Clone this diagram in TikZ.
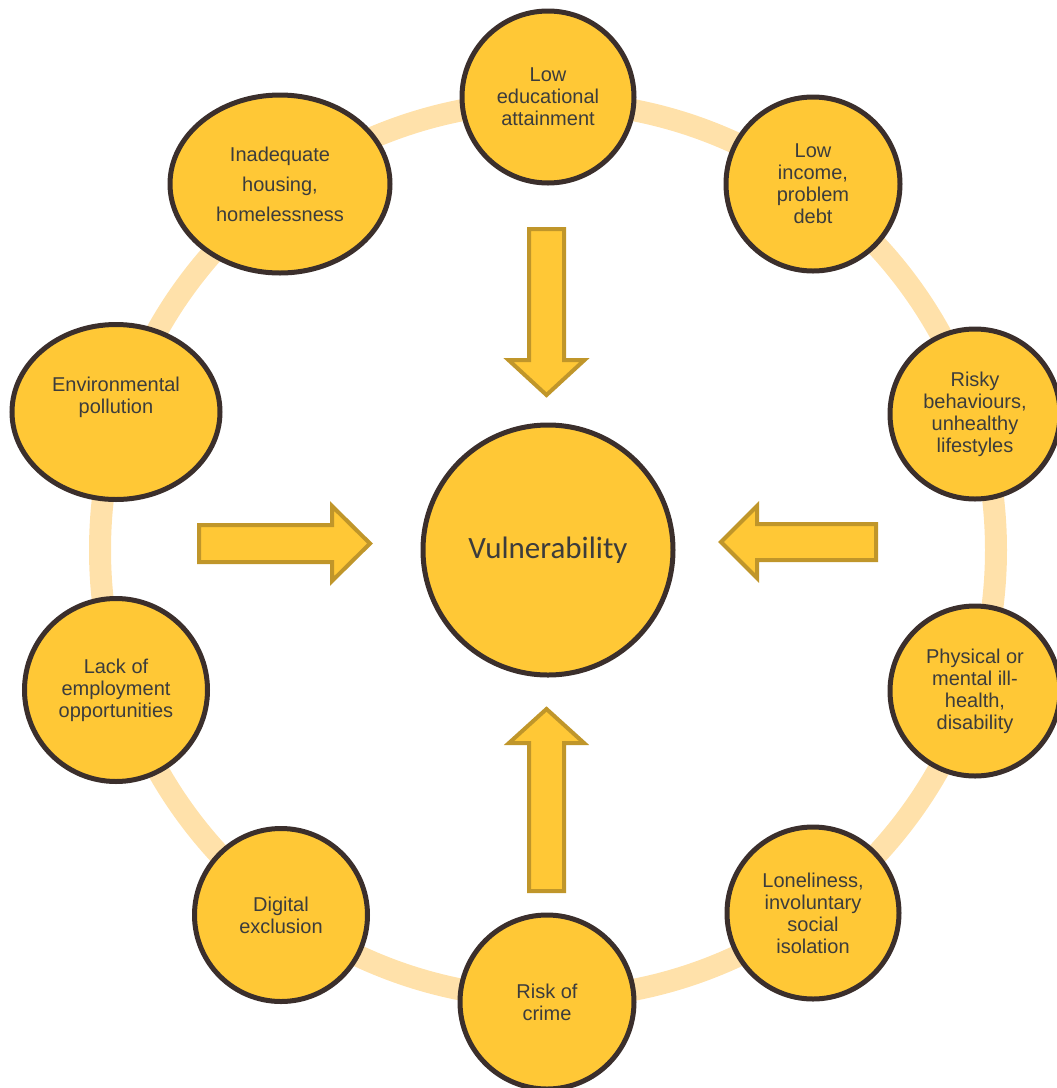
\documentclass[tikz,border=0pt]{standalone}
\usepackage{fontspec}
\setmainfont{Liberation Sans}
\newfontfamily\vulnfont{Carlito}
\usetikzlibrary{shapes.geometric}
\definecolor{ringc}{HTML}{FFE1AA}
\definecolor{fillc}{HTML}{FFC836}
\definecolor{borderc}{HTML}{3B2F2C}
\definecolor{textc}{HTML}{3C3C3C}
\definecolor{arrowborder}{HTML}{C0962A}
\begin{document}
\begin{tikzpicture}[x=1pt,y=-1pt,
  factor/.style={circle,draw=borderc,fill=fillc,line width=5pt,inner sep=0pt,
    text=textc,align=center,font=\fontsize{20}{22}\selectfont},
  factorell/.style={ellipse,draw=borderc,fill=fillc,line width=5pt,inner sep=0pt,
    text=textc,align=center,font=\fontsize{20}{22}\selectfont},
  blockarrow/.style={draw=arrowborder,fill=fillc,line width=4pt,line join=miter}]
\useasboundingbox (0,0) rectangle (1057,1088);
% ring
\draw[ringc,line width=22pt] (548,550) circle[radius=448];
% center
\node[factor,minimum size=250pt,font=\vulnfont\fontsize{31}{34}\selectfont,text=textc] (vul) at (548,550) {Vulnerability};
% outer factors
\node[factor,minimum size=172pt] (edu) at (548,97) {Low\\educational\\attainment};
\node[factor,minimum size=174pt] (inc) at (813,184) {Low\\income,\\problem\\debt};
\node[factor,minimum size=170pt] (risk) at (975,414) {Risky\\behaviours,\\unhealthy\\lifestyles};
\node[factor,minimum size=170pt] (phys) at (975,691) {Physical or\\mental ill-\\health,\\disability};
\node[factor,minimum size=172pt] (lone) at (813,913) {Loneliness,\\involuntary\\social\\isolation};
\node[factor,minimum size=174pt] (crime) at (547,1002) {Risk of\\crime};
\node[factor,minimum size=173pt] (dig) at (281,915) {Digital\\exclusion};
\node[factor,minimum size=183pt] (emp) at (116,690) {Lack of\\employment\\opportunities};
\node[factorell,minimum width=208pt,minimum height=175pt] (env) at (116,412) {};
\node[text=textc,align=center,font=\fontsize{20}{22}\selectfont] (envt) at (116,397) {Environmental\\pollution};
\node[factorell,minimum width=220pt,minimum height=178pt,font=\fontsize{20}{30}\selectfont] (hous) at (280,184) {Inadequate\\housing,\\homelessness};
% block arrows
\coordinate (at) at (546.5,229);
\draw[blockarrow] (at) ++(-17.5,0) -- ++(0,131) -- ++(-20.5,0) -- (546.5,395) -- (584.5,360) -- ++(-20.5,0) -- ++(0,-131) -- cycle;
\coordinate (ab) at (546.5,891);
\draw[blockarrow] (ab) ++(-17.5,0) -- ++(0,-148) -- ++(-20,0) -- (546.5,709) -- (584,743) -- ++(-20,0) -- ++(0,148) -- cycle;
\coordinate (al) at (199,543.5);
\draw[blockarrow] (al) ++(0,-18.5) -- ++(133,0) -- ++(0,-19) -- (370,543.5) -- (332,581) -- ++(0,-19) -- ++(-133,0) -- cycle;
\coordinate (ar) at (876,542);
\draw[blockarrow] (ar) ++(0,-18) -- ++(-119,0) -- ++(0,-18) -- (721,542) -- (757,578) -- ++(0,-18) -- ++(119,0) -- cycle;
\end{tikzpicture}
\end{document}
